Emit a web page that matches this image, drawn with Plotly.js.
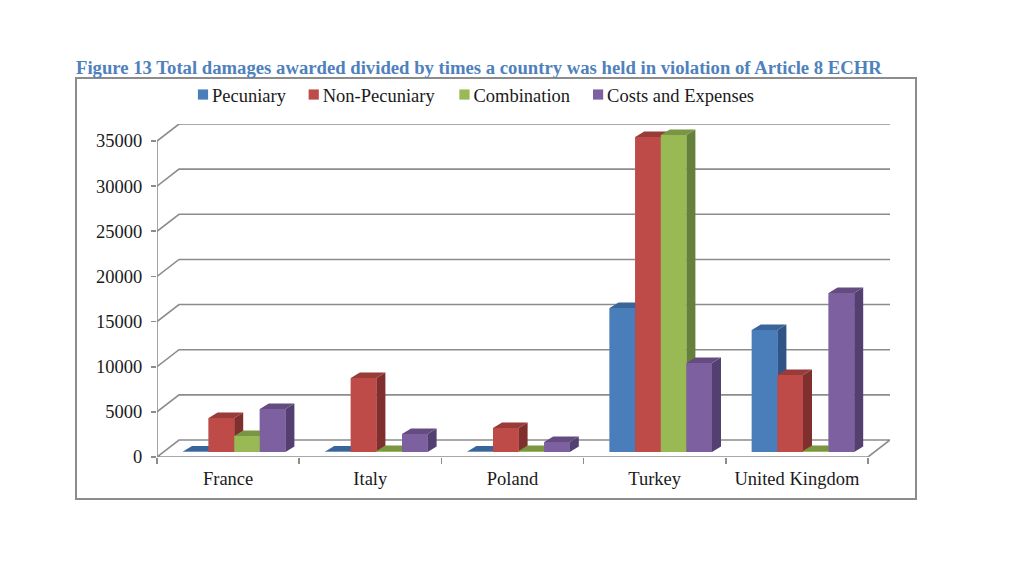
<!DOCTYPE html>
<html>
<head>
<meta charset="utf-8">
<script src="https://cdn.plot.ly/plotly-3.0.1.min.js"></script>
<style>html,body{margin:0;padding:0;background:#fff}#chart{width:1024px;height:576px}</style>
</head>
<body>
<div id="chart"></div>
<script>
const categories = ["France", "Italy", "Poland", "Turkey", "United Kingdom"];
const pecuniary = [50, 50, 50, 15950, 13500];
const nonPecuniary = [3770, 8200, 2660, 34900, 8530];
const combination = [1770, 100, 100, 35100, 100];
const costsAndExpenses = [4760, 2000, 1100, 9860, 17600];
const seriesNames = ["Pecuniary", "Non-Pecuniary", "Combination", "Costs and Expenses"];
const seriesValues = [pecuniary, nonPecuniary, combination, costsAndExpenses];
const yTicks = [0, 5000, 10000, 15000, 20000, 25000, 30000, 35000];

const frontColors = ["#4A7EBB", "#BE4B48", "#98B954", "#7D60A0"];
const topColors = ["#3A659A", "#983B39", "#7A9643", "#644C80"];
const sideColors = ["#2F5485", "#7F302E", "#65803A", "#534070"];
const gridColor = "#8C8C8C";
const textColor = "#1A1A1A";
const serif = "'Liberation Serif', serif";

// Geometry of the oblique projection, in pixels, turned into axis units.
const pxPerCat = 142.2, pxPerVal = 316 / 35000;
const ux = p => p / pxPerCat, uy = p => p / pxPerVal;
const wallDx = ux(22), wallDy = uy(17);
const xMax = ux(890 - 157), yMax = uy(457 - 124);
const barBase = uy(5), barStart = ux(26), barW = ux(25.6);
const barDx = ux(9), barDy = uy(5.5);

const traces = [];
function line(xs, ys, width) {
  traces.push({type: "scatter", mode: "lines", x: xs, y: ys, cliponaxis: false,
    line: {color: gridColor, width: width || 1.6, simplify: false},
    showlegend: false, hoverinfo: "skip"});
}
function poly(xs, ys, color) {
  traces.push({type: "scatter", mode: "lines", x: xs, y: ys, fill: "toself", fillcolor: color,
    line: {width: 0, color: color}, cliponaxis: false, showlegend: false, hoverinfo: "skip"});
}

// legend carriers and native bars
seriesNames.forEach((name, s) => {
  traces.push({type: "bar", name: name, orientation: "v",
    x: categories.map((_, c) => c + barStart + (s + 0.5) * barW),
    y: seriesValues[s], base: barBase, width: barW,
    marker: {color: frontColors[s], line: {width: 0}}, hoverinfo: "skip"});
});

// walls and floor
yTicks.slice(1).forEach(v => line([0, wallDx, xMax], [v, v + wallDy, v + wallDy]));
line([0, wallDx, xMax, xMax - wallDx, 0], [0, wallDy, wallDy, 0, 0]);
line([0, 0], [0, 35000]);

// bar faces, painted left to right so that neighbours overlap correctly
categories.forEach((_, c) => {
  seriesNames.forEach((_, s) => {
    const v = seriesValues[s][c] + barBase;
    const l = c + barStart + s * barW, r = l + barW;
    poly([r, r + barDx, r + barDx, r, r], [barBase, barBase + barDy, v + barDy, v, barBase], sideColors[s]);
    poly([l, l + barDx, r + barDx, r, l], [v, v + barDy, v + barDy, v, v], topColors[s]);
    poly([l, r, r, l, l], [barBase, barBase, v, v, barBase], frontColors[s]);
  });
});

const layout = {
  width: 1024, height: 576, autosize: false,
  margin: {l: 0, r: 0, t: 0, b: 0, pad: 0},
  paper_bgcolor: "#fff", plot_bgcolor: "rgba(0,0,0,0)",
  barmode: "overlay",
  hovermode: false,
  title: {
    text: "<b>Figure 13 Total damages awarded divided by times a country was held in violation of Article 8 ECHR</b>",
    x: 76 / 1024, xanchor: "left", xref: "paper",
    y: 1 - 67.5 / 576, yanchor: "middle", yref: "paper",
    font: {family: serif, size: 18.7, color: "#4F81BD"}
  },
  xaxis: {
    domain: [157 / 1024, 890 / 1024], range: [0, xMax], type: "linear",
    showgrid: false, zeroline: false, showline: false,
    tickmode: "array", tickvals: categories.map((_, c) => c + 0.5), ticktext: categories,
    ticks: "", ticklabelstandoff: 8,
    tickfont: {family: serif, size: 18.5, color: textColor},
    minor: {tickmode: "array", tickvals: [0, 1, 2, 3, 4, 5], ticks: "outside", ticklen: 6, tickwidth: 1.6, tickcolor: gridColor, showgrid: false}
  },
  yaxis: {
    domain: [1 - 457 / 576, 1 - 124 / 576], range: [0, yMax], type: "linear",
    showgrid: false, zeroline: false, showline: false,
    tickmode: "array", tickvals: yTicks, ticktext: yTicks.map(String),
    ticks: "outside", ticklen: 5, tickwidth: 1.6, tickcolor: gridColor, ticklabelstandoff: 5,
    tickfont: {family: serif, size: 18.5, color: textColor}
  },
  legend: {
    orientation: "h", x: 190 / 1024, xanchor: "left", y: 1 - 95 / 576, yanchor: "middle",
    bgcolor: "rgba(0,0,0,0)", borderwidth: 0,
    font: {family: serif, size: 18.5, color: textColor},
    itemclick: false, itemdoubleclick: false
  },
  shapes: [{type: "rect", xref: "paper", yref: "paper", x0: 76 / 1024, x1: 916 / 1024,
    y0: 1 - 499 / 576, y1: 1 - 78 / 576, line: {color: "#8C8C8C", width: 2}, fillcolor: "rgba(0,0,0,0)", layer: "below"}]
};
Plotly.newPlot("chart", traces, layout, {displayModeBar: false, responsive: false, staticPlot: true}).then(() => {
  // Tighten the legend: Excel-style small swatches sitting close to their labels.
  const entryShift = [-18, -27, -34, -42];
  document.querySelectorAll(".legend .traces").forEach((g, i) => {
    const m = /translate\(([-\d.]+)[, ]+([-\d.]+)\)/.exec(g.getAttribute("transform"));
    if (m) g.setAttribute("transform", `translate(${parseFloat(m[1]) + entryShift[i]},${m[2]})`);
    const sym = g.querySelector(".legendsymbols");
    if (sym) sym.setAttribute("transform", "translate(31,0)");
    g.querySelectorAll("path").forEach(p => { p.style.transform = "scale(0.85)"; });
  });
});
</script>
</body>
</html>
